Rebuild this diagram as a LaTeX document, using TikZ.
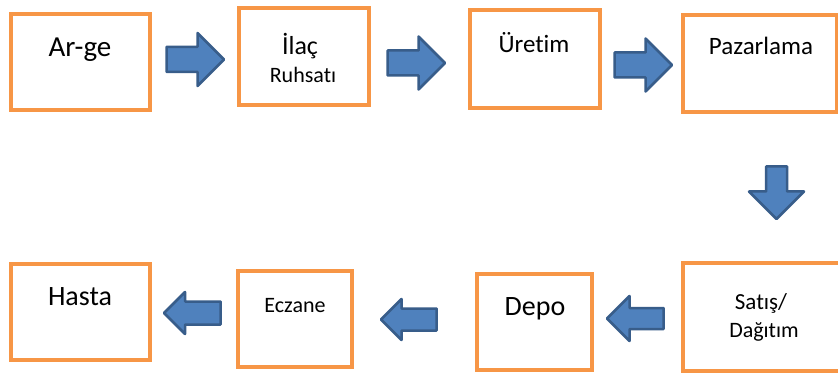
\documentclass[tikz,border=0pt]{standalone}
\usepackage{fontspec}
\setmainfont{Carlito}[Ligatures=NoCommon]
\usetikzlibrary{shapes.arrows}
\definecolor{boxorange}{HTML}{F79646}
\definecolor{arrowfill}{HTML}{4F81BD}
\definecolor{arrowline}{HTML}{385D8A}

\begin{document}
\begin{tikzpicture}[x=1pt,y=-1pt,
  box/.style={draw=boxorange,line width=4pt,inner sep=0pt},
  blk/.style={single arrow,draw=arrowline,fill=arrowfill,line width=2.5pt,
    line join=round,inner xsep=0pt,single arrow tip angle=90,anchor=tail},
  lbl/.style={anchor=base,inner sep=0pt}]

\useasboundingbox[fill=white] (0,0) rectangle (838,374);
\clip (0,0) rectangle (838,374);

% boxes
\node[box,minimum width=139pt,minimum height=96pt] (arge) at (80.5,62) {};
\node[box,minimum width=130pt,minimum height=97pt] (ilac) at (304,56.5) {};
\node[box,minimum width=130pt,minimum height=98pt] (uretim) at (535,59) {};
\node[box,minimum width=154pt,minimum height=97pt] (pazar) at (760,63.5) {};
\node[box,minimum width=162pt,minimum height=108pt] (satis) at (764,317) {};
\node[box,minimum width=115pt,minimum height=96pt] (depo) at (534.5,322) {};
\node[box,minimum width=114pt,minimum height=96pt] (eczane) at (295,319) {};
\node[box,minimum width=139pt,minimum height=96pt] (hasta) at (80.5,312) {};

% texts
\node[lbl,font=\fontsize{29}{31}\selectfont] (argetxt) at (80,57) {Ar-ge};
\node[lbl,font=\fontsize{26}{28}\selectfont] (ilactxt) at (300,55) {İlaç};
\node[lbl,font=\fontsize{22}{24}\selectfont] (ruhsattxt) at (303,83) {Ruhsatı};
\node[lbl,font=\fontsize{25}{27}\selectfont] (uretimtxt) at (534,53) {Üretim};
\node[lbl,font=\fontsize{25}{27}\selectfont] (pazartxt) at (761,55) {Pazarlama};
\node[lbl,font=\fontsize{23}{25}\selectfont] (satistxt) at (761,309) {Satış/};
\node[lbl,font=\fontsize{22}{24}\selectfont] (dagitimtxt) at (764,337) {Dağıtım};
\node[lbl,font=\fontsize{28}{30}\selectfont] (depotxt) at (535,315) {Depo};
\node[lbl,font=\fontsize{22}{24}\selectfont] (eczanetxt) at (295,312) {Eczane};
\node[lbl,font=\fontsize{28}{30}\selectfont] (hastatxt) at (80,305) {Hasta};

% block arrows
\node[blk,minimum height=57.5pt,inner ysep=11.25pt,single arrow head extend=14pt] (a1) at (165.25,59.5) {};
\node[blk,minimum height=57.5pt,inner ysep=11.25pt,single arrow head extend=14pt] (a2) at (386.25,63) {};
\node[blk,minimum height=57.5pt,inner ysep=11.25pt,single arrow head extend=14pt] (a3) at (613.25,65) {};
\node[blk,rotate=270,minimum height=52.5pt,inner ysep=9.25pt,single arrow head extend=17pt] (a4) at (776.5,165.25) {};
\node[blk,rotate=180,minimum height=56.5pt,inner ysep=9.25pt,single arrow head extend=12pt] (a5) at (664.75,318.5) {};
\node[blk,rotate=180,minimum height=55.5pt,inner ysep=9.75pt,single arrow head extend=9.5pt] (a6) at (437.75,319.5) {};
\node[blk,rotate=180,minimum height=56.5pt,inner ysep=10.25pt,single arrow head extend=9.5pt] (a7) at (221.75,313) {};
\end{tikzpicture}
\end{document}
